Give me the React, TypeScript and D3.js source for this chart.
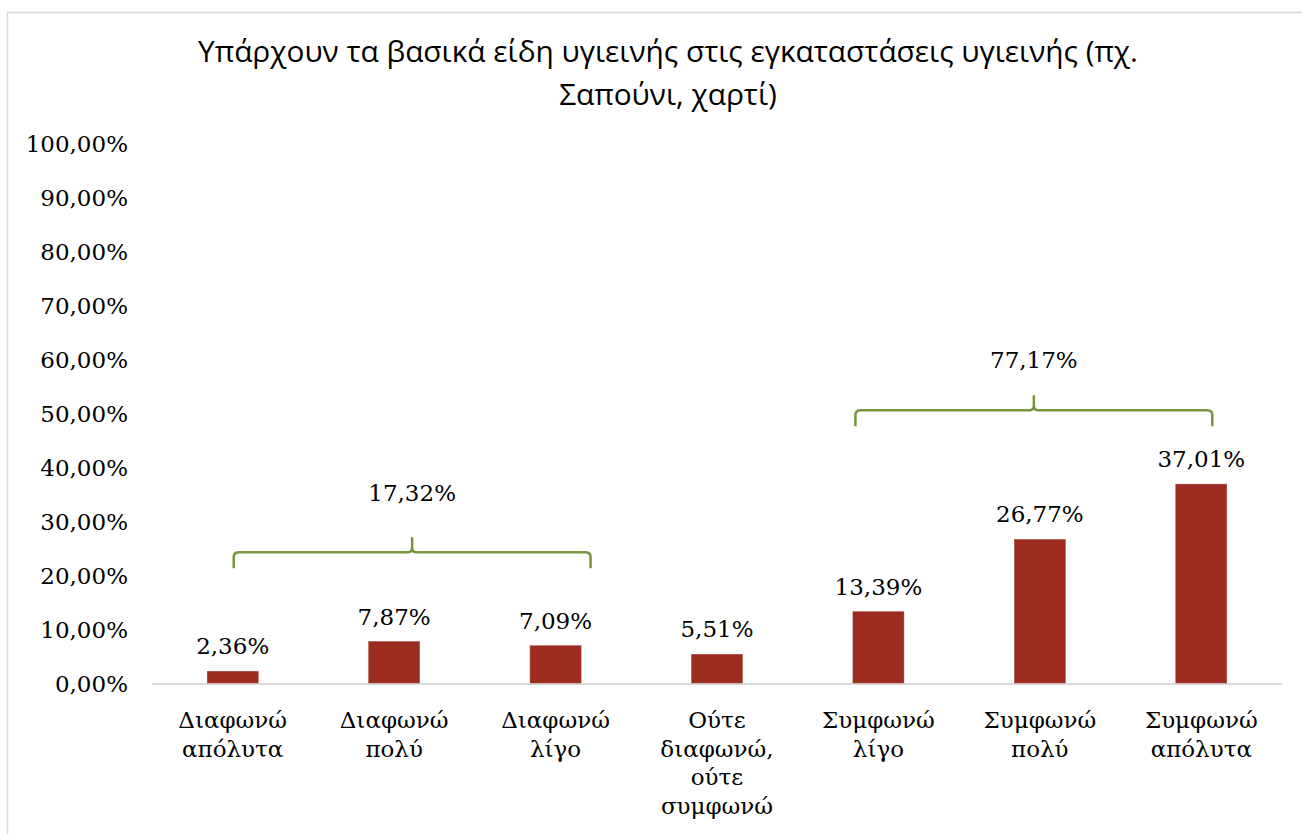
import React from "react";
import * as d3 from "d3";

const categories: string[][] = [
  ["Διαφωνώ", "απόλυτα"],
  ["Διαφωνώ", "πολύ"],
  ["Διαφωνώ", "λίγο"],
  ["Ούτε", "διαφωνώ,", "ούτε", "συμφωνώ"],
  ["Συμφωνώ", "λίγο"],
  ["Συμφωνώ", "πολύ"],
  ["Συμφωνώ", "απόλυτα"],
];
const values: number[] = [2.36, 7.87, 7.09, 5.51, 13.39, 26.77, 37.01];
const yTicks: number[] = [0, 10, 20, 30, 40, 50, 60, 70, 80, 90, 100];
const titleLines: string[] = [
  "Υπάρχουν τα βασικά είδη υγιεινής στις εγκαταστάσεις υγιεινής (πχ.",
  "Σαπούνι, χαρτί)",
];
// bracket groups: first/last category index, total label, bracket level (%), label level (%)
const groups: { from: number; to: number; label: string; level: number; labelLevel: number }[] = [
  { from: 0, to: 2, label: "17,32%", level: 24.4, labelLevel: 35.5 },
  { from: 4, to: 6, label: "77,17%", level: 50.7, labelLevel: 60 },
];
// horizontal extension of each bracket beyond the bar centres (px)
const bracketPad: [number, number][] = [
  [1, 35],
  [-23, 11],
];

const W = 1302;
const H = 834;
const plotLeft = 152;
const plotRight = 1282;
const y0 = 684;
const y100 = 144;
const serif = "'DejaVu Serif', serif";
const fs = 23;
const fmt = (v: number) => v.toFixed(2).replace(".", ",") + "%";

export default function App() {
  const x = d3
    .scaleBand<number>()
    .domain(values.map((_, i) => i))
    .range([plotLeft, plotRight])
    .paddingInner(0.684)
    .paddingOuter(0.342);
  const y = d3.scaleLinear().domain([0, 100]).range([y0, y100]);
  const cx = (i: number) => (x(i) as number) + x.bandwidth() / 2;
  const green = "#77933c";

  return (
    <svg
      width={W}
      height={H}
      style={{ position: "absolute", left: 0, top: 0, background: "#fff" }}
    >
      <rect x={7.5} y={12.5} width={W + 20} height={H + 20} fill="#fff" stroke="#d9d9d9" strokeWidth={1.5} />
      {titleLines.map((t, i) => (
        <text
          key={i}
          x={668}
          y={62 + i * 43}
          textAnchor="middle"
          fontFamily="'Open Sans', sans-serif"
          fontSize={29.8}
          fill="#000"
        >
          {t}
        </text>
      ))}
      {yTicks.map((t) => (
        <text
          key={t}
          x={128}
          y={y(t)}
          dy="0.36em"
          textAnchor="end"
          fontFamily={serif}
          fontSize={fs}
          fill="#000"
        >
          {fmt(t)}
        </text>
      ))}
      <line x1={plotLeft} x2={plotRight} y1={y0} y2={y0} stroke="#d9d9d9" strokeWidth={2} />
      {values.map((v, i) => (
        <g key={i}>
          <rect
            x={x(i)}
            y={y(v)}
            width={x.bandwidth()}
            height={y(0) - y(v) - 1}
            fill="#9b2c1f"
            stroke="#a8473b"
            strokeWidth={0.5}
          />
          <text
            x={cx(i)}
            y={y(v) - 17}
            textAnchor="middle"
            fontFamily={serif}
            fontSize={fs}
            fill="#000"
          >
            {fmt(v)}
          </text>
          {categories[i].map((line, j) => (
            <text
              key={j}
              x={cx(i)}
              y={728 + j * 28.5}
              textAnchor="middle"
              fontFamily={serif}
              fontSize={fs}
              fill="#000"
            >
              {line}
            </text>
          ))}
        </g>
      ))}
      {groups.map((g, k) => {
        const xa = cx(g.from) + bracketPad[k][0];
        const xb = cx(g.to) + bracketPad[k][1];
        const xm = (xa + xb) / 2;
        const yl = y(g.level);
        const r = 5;
        const d = `M${xa},${yl + 16} L${xa},${yl + r} Q${xa},${yl} ${xa + r},${yl} L${xm - 4},${yl} Q${xm},${yl} ${xm},${yl - 5} L${xm},${yl - 15} M${xm},${yl - 5} Q${xm},${yl} ${xm + 4},${yl} L${xb - r},${yl} Q${xb},${yl} ${xb},${yl + r} L${xb},${yl + 16}`;
        return (
          <g key={k}>
            <path d={d} fill="none" stroke={green} strokeWidth={2.5} />
            <text
              x={xm}
              y={y(g.labelLevel)}
              dy="0.36em"
              textAnchor="middle"
              fontFamily={serif}
              fontSize={fs}
              fill="#000"
            >
              {g.label}
            </text>
          </g>
        );
      })}
    </svg>
  );
}
